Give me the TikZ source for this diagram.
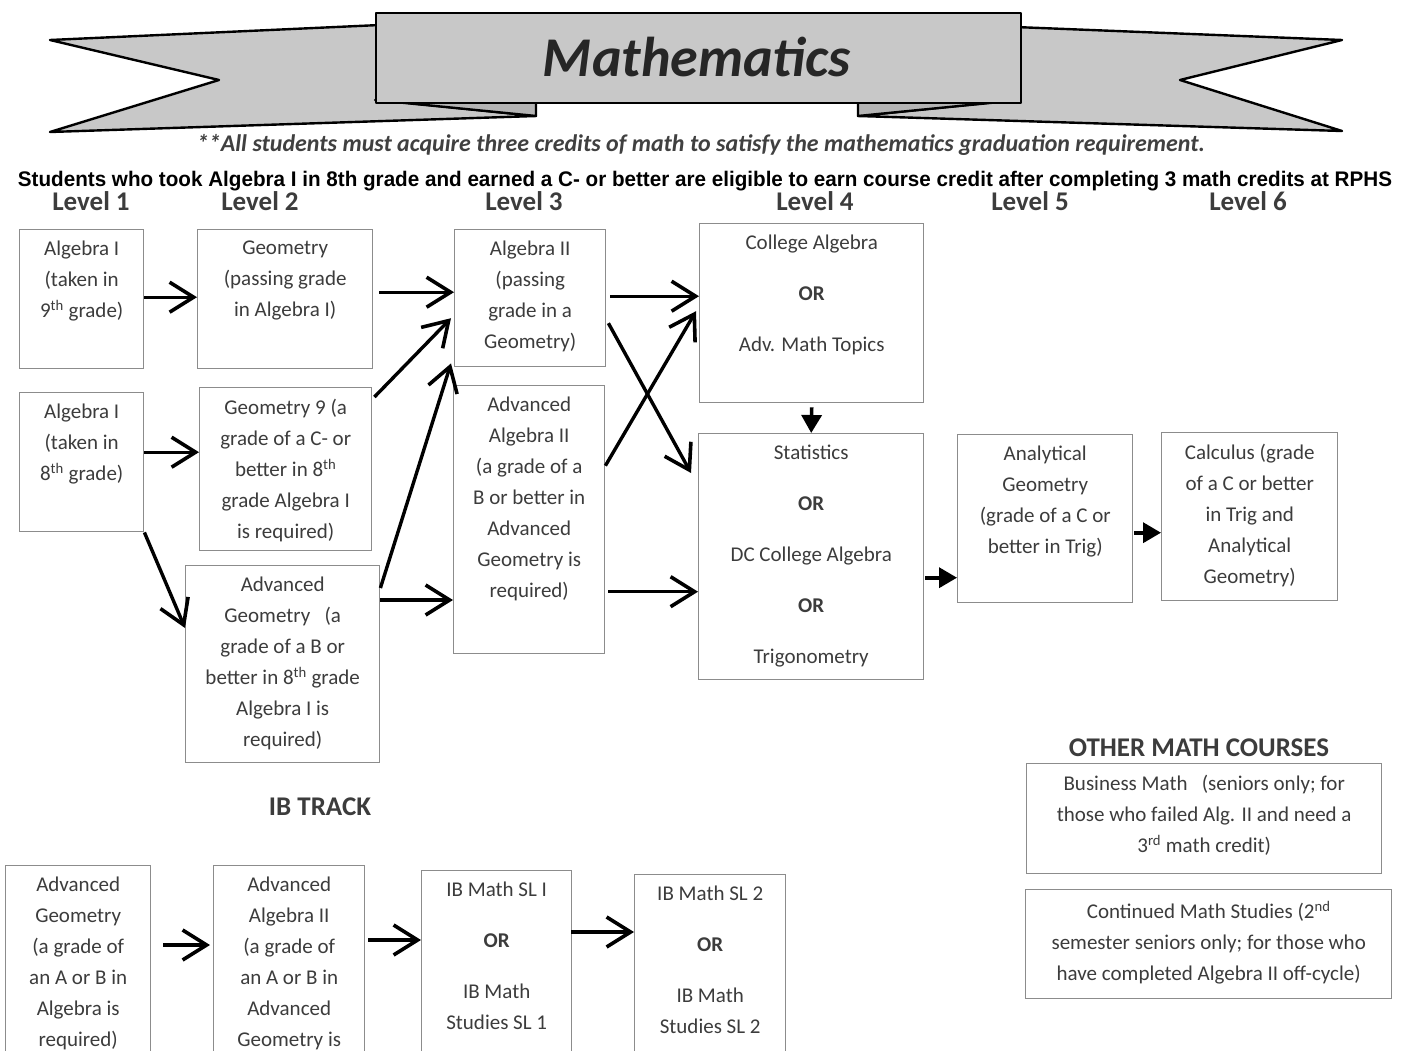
\documentclass[tikz,border=0pt]{standalone}
\usepackage{fontspec}
\usepackage{graphicx}
\setmainfont{Carlito}
\newfontfamily\narrowfont{Liberation Sans}[FakeStretch=0.8]
\usetikzlibrary{arrows.meta,calc}
\definecolor{txtgray}{HTML}{3C3C3C}
\definecolor{boxgray}{HTML}{8C8C8C}
\definecolor{ribbon}{HTML}{C8C8C8}
\definecolor{ribbondark}{HTML}{B4B4B4}
\begin{document}
\begin{tikzpicture}[x=1pt,y=-1pt,
 box/.style={draw=boxgray, line width=1.4pt, anchor=north west, inner sep=0pt},
 lab/.style={anchor=north, yshift=-12pt, align=center, inner sep=0pt, text=txtgray, font=\fontsize{21}{31}\selectfont},
 arr/.style={line width=3.4pt, -{Straight Barb[length=24pt,width=30pt,line width=3.6pt]}},
 farr/.style={line width=3.6pt, -{Triangle[length=18pt,width=20pt]}},
 lvl/.style={font=\fontsize{27}{27}\selectfont\bfseries, text=txtgray, inner sep=0pt, anchor=base},
 rib/.style={fill=ribbon, draw=black, line width=2.4pt, line join=round},
]
\useasboundingbox (0,0) rectangle (1407,1051);
\clip (0,0) rectangle (1407,1051);
\fill[white] (0,0) rectangle (1407,1051);

% ---- banner ----
\path[rib] (50,40) -- (380,25) -- (380,100) -- (536,116) -- (50,132) -- (219,80) -- cycle;
\path[rib, fill=ribbondark] (375,100) -- (536,100) -- (536,116) -- cycle;
\path[rib] (1342,40) -- (1015,27) -- (1015,100) -- (858,116) -- (1342,131) -- (1180,80) -- cycle;
\path[rib, fill=ribbondark] (1020,100) -- (858,100) -- (858,116) -- cycle;
\node[rib, minimum width=645pt, minimum height=90pt, anchor=north west, inner sep=0pt] (banner) at (375,12) {};
\node[anchor=base, inner sep=0pt, text=black!85] (title) at (697,77) {\resizebox{308pt}{!}{\fontsize{55}{55}\selectfont\bfseries\itshape Mathematics}};

\node[anchor=base, inner sep=0pt, text=black!75] (note) at (701,152) {\resizebox{1008pt}{!}{\fontsize{20}{20}\selectfont\bfseries\itshape **All students must acquire three credits of math to satisfy the mathematics graduation requirement.}};
\node[anchor=base, inner sep=0pt] (elig) at (705,186) {\resizebox{1374pt}{15.3pt}{\narrowfont\fontsize{21}{21}\selectfont\bfseries Students who took Algebra I in 8th grade and earned a C- or better are eligible to earn course credit after completing 3 math credits at RPHS}};

% ---- level labels ----
\node[lvl] (l1) at (91,211) {Level 1};
\node[lvl] (l2) at (260,211) {Level 2};
\node[lvl] (l3) at (524,211) {Level 3};
\node[lvl] (l4) at (815,211) {Level 4};
\node[lvl] (l5) at (1030,211) {Level 5};
\node[lvl] (l6) at (1248,211) {Level 6};

% ---- boxes ----
\node[box, minimum width=124pt, minimum height=139pt, label={[lab]north:{Algebra I\\(taken in\\9\textsuperscript{th} grade)}}] (a1) at (19,229) {};
\node[box, minimum width=124pt, minimum height=139pt, label={[lab]north:{Algebra I\\(taken in\\8\textsuperscript{th} grade)}}] (a2) at (19,392) {};
\node[box, minimum width=175pt, minimum height=139pt, label={[lab]north:{Geometry\\(passing grade\\in Algebra I)}}] (g) at (197,229) {};
\node[box, minimum width=172pt, minimum height=163pt, label={[lab]north:{Geometry 9 (a\\grade of a C- or\\better in 8\textsuperscript{th}\\grade Algebra I\\is required)}}] (g9) at (199,387) {};
\node[box, minimum width=194pt, minimum height=197pt, label={[lab]north:{Advanced\\Geometry~~~(a\\grade of a B or\\better in 8\textsuperscript{th} grade\\Algebra I is\\required)}}] (ag) at (185,565) {};
\node[box, minimum width=151pt, minimum height=137pt, label={[lab]north:{Algebra II\\(passing\\grade in a\\Geometry)}}] (a2b) at (454,229) {};
\node[box, minimum width=151pt, minimum height=268pt, label={[lab]north:{Advanced\\Algebra II\\(a grade of a\\B or better in\\Advanced\\Geometry is\\required)}}] (aa2) at (453,385) {};
\node[box, minimum width=224pt, minimum height=179pt, label={[lab]north:{College Algebra\\[20pt]\textbf{OR}\\[20pt]Adv. Math Topics}}] (ca) at (699,223) {};
\node[box, minimum width=225pt, minimum height=246pt, label={[lab]north:{Statistics\\[20pt]\textbf{OR}\\[20pt]DC College Algebra\\[20pt]\textbf{OR}\\[20pt]Trigonometry}}] (st) at (698,433) {};
\node[box, minimum width=175pt, minimum height=168pt, label={[lab]north:{Analytical\\Geometry\\(grade of a C or\\better in Trig)}}] (ang) at (957,434) {};
\node[box, minimum width=176pt, minimum height=168pt, label={[lab]north:{Calculus (grade\\of a C or better\\in Trig and\\Analytical\\Geometry)}}] (calcu) at (1161,432) {};

% ---- IB track ----
\node[lvl] (ibt) at (320,815) {IB TRACK};
\node[box, minimum width=145pt, minimum height=230pt, label={[lab]north:{Advanced\\Geometry\\(a grade of\\an A or B in\\Algebra is\\required)}}] (ib1) at (5,865) {};
\node[box, minimum width=151pt, minimum height=230pt, label={[lab]north:{Advanced\\Algebra II\\(a grade of\\an A or B in\\Advanced\\Geometry is}}] (ib2) at (213,865) {};
\node[box, minimum width=150pt, minimum height=230pt, label={[lab]north:{IB Math SL I\\[20pt]\textbf{OR}\\[20pt]IB Math\\Studies SL 1}}] (ib3) at (421,870) {};
\node[box, minimum width=151pt, minimum height=230pt, label={[lab]north:{IB Math SL 2\\[20pt]\textbf{OR}\\[20pt]IB Math\\Studies SL 2}}] (ib4) at (634,874) {};

% ---- other courses ----
\node[lvl] (omc) at (1199,756) {OTHER MATH COURSES};
\node[box, minimum width=355pt, minimum height=110pt, label={[lab]north:{Business Math~~~(seniors only; for\\those who failed Alg. II and need a\\3\textsuperscript{rd} math credit)}}] (bm) at (1026,763) {};
\node[box, minimum width=366pt, minimum height=109pt, label={[lab]north:{Continued Math Studies (2\textsuperscript{nd}\\semester seniors only; for those who\\have completed Algebra II off-cycle)}}] (cms) at (1025,889) {};

% ---- arrows ----
\draw[arr] ([yshift=2pt]a1.east) -- ([yshift=2pt]a1.east -| g.west);
\draw[arr] ([yshift=10pt]a2.east) -- ([yshift=10pt]a2.east -| g9.west);
\draw[arr] (a2.south east) -- ([yshift=-63pt]ag.north west);
\draw[arr] ([xshift=6pt,yshift=7pt]g.east) -- ([yshift=7pt]g.east -| a2b.west);
\draw[arr] ([xshift=2pt,yshift=-10pt]g9.north east) -- ([xshift=-3pt,yshift=-20pt]a2b.west);
\draw[arr] ([yshift=-23pt]ag.north east) -- ([xshift=-3pt,yshift=4pt]a2b.south west);
\draw[arr] ([yshift=-35pt]ag.north east) -- ([yshift=-35pt]ag.north east -| aa2.west);
\draw[arr] ([xshift=4pt,yshift=2pt]a2b.east) -- ([yshift=2pt]a2b.east -| ca.west);
\draw[arr] ([xshift=2pt,yshift=-25pt]a2b.east) -- ([xshift=-7pt,yshift=-40pt]st.north west);
\draw[arr] ([xshift=0pt,yshift=54pt]aa2.east) -- ([xshift=-3pt,yshift=2pt]ca.west);
\draw[arr] ([xshift=3pt,yshift=-72pt]aa2.east) -- ([yshift=-72pt]aa2.east -| st.west);
\draw[farr] ([yshift=-4pt]ca.south) -- (st.north);
\draw[farr] ([xshift=1pt,yshift=-21pt]st.east) -- ([yshift=-21pt]st.east -| ang.west);
\draw[farr] ([xshift=1pt,yshift=-14pt]ang.east) -- ([yshift=-14pt]ang.east -| calcu.west);
\draw[arr] ([xshift=12pt,yshift=-80pt]ib1.north east) -- ([xshift=-3pt,yshift=-80pt]ib1.north east -| ib2.west);
\draw[arr] ([xshift=3pt,yshift=-75pt]ib2.north east) -- ([yshift=-75pt]ib2.north east -| ib3.west);
\draw[arr] ([xshift=-1pt,yshift=-62pt]ib3.north east) -- ([yshift=-62pt]ib3.north east -| ib4.west);
\end{tikzpicture}
\end{document}
